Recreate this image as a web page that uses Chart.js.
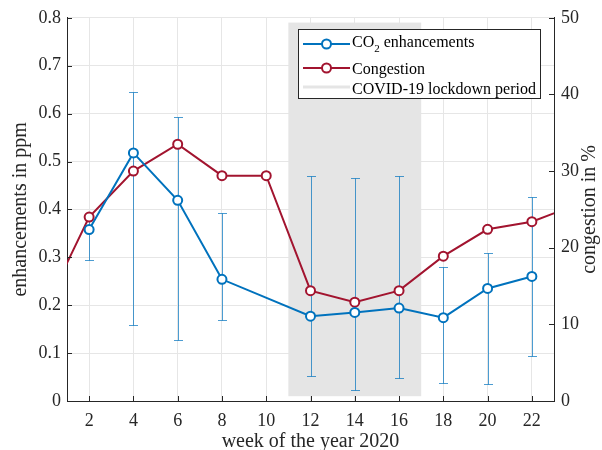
<!DOCTYPE html>
<html>
<head>
<meta charset="utf-8">
<script src="https://cdn.jsdelivr.net/npm/chart.js@4.4.1/dist/chart.umd.min.js"></script>
<style>
html, body { margin: 0; padding: 0; background: #fff; }
</style>
</head>
<body>
<canvas id="grafico-co2" width="602" height="450"></canvas>
<script>
// datos
const semanas = [2, 4, 6, 8, 12, 14, 16, 18, 20, 22];
const co2 = [0.358, 0.518, 0.419, 0.254, 0.177, 0.185, 0.194, 0.174, 0.235, 0.260];
const co2Min = [0.294, 0.158, 0.127, 0.170, 0.052, 0.023, 0.047, 0.038, 0.036, 0.093];
const co2Max = [0.385, 0.646, 0.592, 0.393, 0.469, 0.466, 0.470, 0.280, 0.310, 0.426];

const semanasCongestion = [0, 2, 4, 6, 8, 10, 12, 14, 16, 18, 20, 22, 24];
const congestion = [12.0, 24.0, 30.0, 33.5, 29.4, 29.4, 14.4, 12.9, 14.4, 18.9, 22.4, 23.4, 25.6];

const ticksSemanas = [2, 4, 6, 8, 10, 12, 14, 16, 18, 20, 22];
const cuarentena = [11, 17];          // semanas del confinamiento
const cuarentenaPpm = [0.01, 0.79];   // alto del area gris

const azul = '#0072BD';
const rojo = '#A2142F';
const ejes = '#262626';
const fuente = "'Liberation Serif', 'Times New Roman', serif";

const puntos = (xs, ys) => xs.map((x, i) => ({ x: x, y: ys[i] }));

// area gris y barras de error
const pluginFondo = {
    id: 'fondo',
    beforeDatasetsDraw(chart) {
        const ctx = chart.ctx;
        const x = chart.scales.x, y = chart.scales.y;
        const x0 = x.getPixelForValue(cuarentena[0]);
        const x1 = x.getPixelForValue(cuarentena[1]);
        const y0 = y.getPixelForValue(cuarentenaPpm[1]);
        const y1 = y.getPixelForValue(cuarentenaPpm[0]);
        ctx.save();
        ctx.fillStyle = '#e5e5e5';
        ctx.fillRect(x0, y0, x1 - x0, y1 - y0);

        ctx.strokeStyle = 'rgba(0,114,189,0.7)';
        ctx.lineWidth = 1;
        semanas.forEach(function (s, i) {
            const px = Math.round(x.getPixelForValue(s)) + 0.5;
            const pTop = Math.round(y.getPixelForValue(co2Max[i])) + 0.5;
            const pBot = Math.round(y.getPixelForValue(co2Min[i])) + 0.5;
            ctx.beginPath();
            ctx.moveTo(px, pTop); ctx.lineTo(px, pBot);
            ctx.moveTo(px - 4.5, pTop); ctx.lineTo(px + 4.5, pTop);
            ctx.moveTo(px - 4.5, pBot); ctx.lineTo(px + 4.5, pBot);
            ctx.stroke();
        });
        ctx.restore();
    }
};

// leyenda dibujada a mano (para el subindice de CO2)
const pluginLeyenda = {
    id: 'leyenda',
    afterDatasetsDraw(chart) {
        const ctx = chart.ctx;
        ctx.save();
        ctx.fillStyle = '#fff';
        ctx.fillRect(298, 29, 243, 70);
        ctx.strokeStyle = ejes;
        ctx.lineWidth = 1;
        ctx.strokeRect(298.5, 29.5, 242, 69);

        const filas = [
            { y: 44, color: azul, marcador: true },
            { y: 68, color: rojo, marcador: true },
            { y: 87, color: '#e5e5e5', marcador: false }
        ];
        filas.forEach(function (f) {
            ctx.strokeStyle = f.color;
            ctx.lineWidth = f.marcador ? 2 : 3;
            ctx.beginPath();
            ctx.moveTo(303, f.y); ctx.lineTo(350, f.y);
            ctx.stroke();
            if (f.marcador) {
                ctx.fillStyle = '#fff';
                ctx.lineWidth = 2;
                ctx.beginPath();
                ctx.arc(326.5, f.y, 4.5, 0, Math.PI * 2);
                ctx.fill();
                ctx.stroke();
            }
        });

        ctx.fillStyle = '#000';
        ctx.textBaseline = 'alphabetic';
        ctx.textAlign = 'left';
        ctx.font = '16px ' + fuente;
        ctx.fillText('CO', 352, 47);
        let w = ctx.measureText('CO').width;
        ctx.font = '11px ' + fuente;
        ctx.fillText('2', 352 + w, 52);
        let w2 = ctx.measureText('2').width;
        ctx.font = '16px ' + fuente;
        ctx.fillText(' enhancements', 352 + w + w2, 47);
        ctx.fillText('Congestion', 352, 74);
        ctx.fillText('COVID-19 lockdown period', 352, 94);
        ctx.restore();
    }
};

// ticks hacia adentro y titulo del eje derecho
const pluginEjes = {
    id: 'ejes',
    afterDraw(chart) {
        const ctx = chart.ctx;
        const a = chart.chartArea;
        const x = chart.scales.x, y = chart.scales.y, y1 = chart.scales.y1;
        ctx.save();
        ctx.strokeStyle = ejes;
        ctx.lineWidth = 1;
        ctx.beginPath();
        x.ticks.forEach(function (t) {
            const px = Math.round(x.getPixelForValue(t.value)) + 0.5;
            ctx.moveTo(px, a.bottom); ctx.lineTo(px, a.bottom - 5);
        });
        y.ticks.forEach(function (t) {
            const py = Math.round(y.getPixelForValue(t.value)) + 0.5;
            ctx.moveTo(a.left, py); ctx.lineTo(a.left + 5, py);
        });
        y1.ticks.forEach(function (t) {
            const py = Math.round(y1.getPixelForValue(t.value)) + 0.5;
            ctx.moveTo(a.right, py); ctx.lineTo(a.right - 5, py);
        });
        ctx.stroke();

        ctx.translate(590, (a.top + a.bottom) / 2);
        ctx.rotate(-Math.PI / 2);
        ctx.fillStyle = ejes;
        ctx.font = '20px ' + fuente;
        ctx.textAlign = 'center';
        ctx.textBaseline = 'middle';
        ctx.fillText('congestion in %', 0, 0);
        ctx.restore();
    }
};

const ctxGrafico = document.getElementById('grafico-co2').getContext('2d');
const grafico = new Chart(ctxGrafico, {
    type: 'line',
    data: {
        datasets: [{
            label: 'CO2 enhancements',
            data: puntos(semanas, co2),
            yAxisID: 'y',
            borderColor: azul,
            borderWidth: 2,
            pointRadius: 4.5,
            pointBorderWidth: 2,
            pointBorderColor: azul,
            pointBackgroundColor: '#fff',
            tension: 0
        }, {
            label: 'Congestion',
            data: puntos(semanasCongestion, congestion),
            yAxisID: 'y1',
            borderColor: rojo,
            borderWidth: 2,
            pointRadius: semanasCongestion.map(s => (s < 1 || s > 23) ? 0 : 4.5),
            pointBorderWidth: 2,
            pointBorderColor: rojo,
            pointBackgroundColor: '#fff',
            tension: 0
        }]
    },
    options: {
        responsive: false,
        animation: false,
        devicePixelRatio: 1,
        layout: { padding: { top: 17, left: 0, right: 0, bottom: 0 } },
        plugins: {
            legend: { display: false },
            tooltip: { enabled: false }
        },
        font: { family: fuente },
        scales: {
            x: {
                type: 'linear',
                min: 1,
                max: 23,
                afterBuildTicks: s => { s.ticks = ticksSemanas.map(v => ({ value: v })); },
                afterFit: s => { s.height = 49; },
                grid: { color: '#e6e6e6', drawTicks: false },
                border: { color: ejes, width: 1 },
                ticks: { color: ejes, padding: 9, font: { family: fuente, size: 18 }, maxRotation: 0 },
                title: {
                    display: true,
                    text: 'week of the year 2020',
                    color: ejes,
                    font: { family: fuente, size: 20, lineHeight: 0.8 },
                    padding: { top: 0, bottom: 0 }
                }
            },
            y: {
                position: 'left',
                min: 0,
                max: 0.8,
                afterFit: s => { s.width = 67; },
                grid: { color: '#e6e6e6', drawTicks: false },
                border: { color: ejes, width: 1 },
                ticks: { stepSize: 0.1, color: ejes, padding: 6, font: { family: fuente, size: 18 } },
                title: {
                    display: true,
                    text: 'enhancements in ppm',
                    color: ejes,
                    font: { family: fuente, size: 20, lineHeight: 1 },
                    padding: { top: 11, bottom: 0 }
                }
            },
            y1: {
                position: 'right',
                min: 0,
                max: 50,
                afterFit: s => { s.width = 48; },
                grid: { display: false, drawTicks: false },
                border: { color: ejes, width: 1 },
                ticks: { stepSize: 10, color: ejes, padding: 7, font: { family: fuente, size: 18 } }
            }
        }
    },
    plugins: [pluginFondo, pluginLeyenda, pluginEjes]
});
</script>
</body>
</html>
